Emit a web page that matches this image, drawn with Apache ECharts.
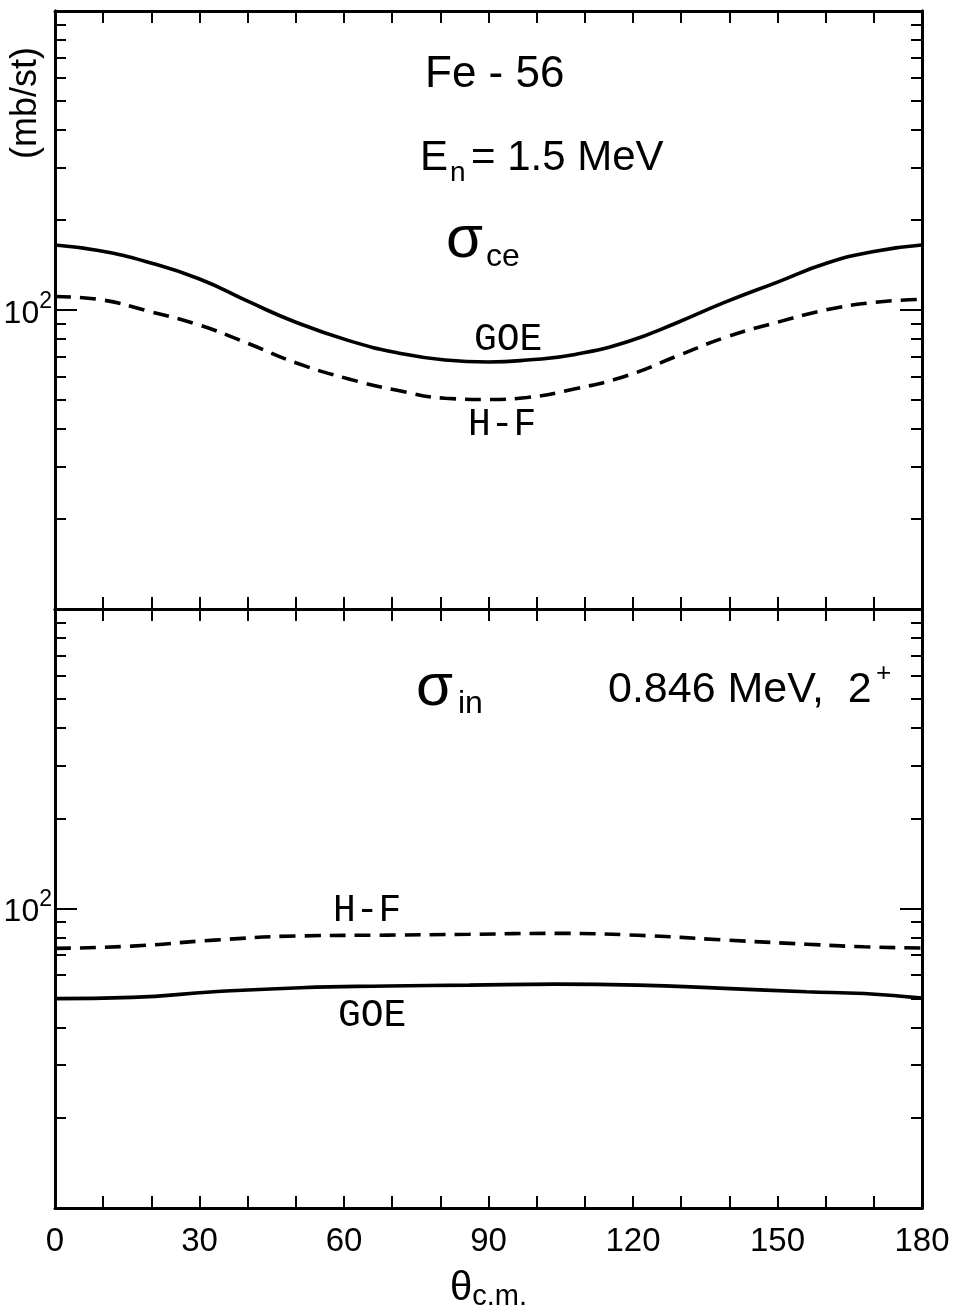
<!DOCTYPE html>
<html>
<head>
<meta charset="utf-8">
<script src="https://cdn.jsdelivr.net/npm/echarts@6/dist/echarts.min.js"></script>
<style>
html,body{margin:0;padding:0;background:#fff;}
#chart{width:953px;height:1315px;}
</style>
</head>
<body>
<div id="chart"></div>
<script>
// ---- data ----
const thetaTop = [0, 9, 19, 30, 40, 50, 61, 71, 81, 90, 98, 108, 119, 129, 139, 150, 160, 170, 180];
const goeElastic = [165, 158, 145, 127, 107, 91, 79, 72, 68, 67, 68, 71, 78.5, 90.5, 106, 124, 143, 157, 165];
const hfElastic = [111, 108.5, 99.5, 89, 77.4, 66.6, 58.8, 53.9, 50.7, 50.2, 51, 54.5, 60.5, 70, 80.8, 91, 100, 106, 108.6];

const thetaBottom = [0, 16, 33, 51, 69, 86, 104, 121, 139, 156, 168, 180];
const hfInelastic = [73.6, 74.9, 78.4, 81, 81.5, 82, 82.6, 81.4, 78.5, 76, 74.5, 73.8];
const goeInelastic = [50, 50.5, 52.7, 54.4, 55.1, 55.5, 55.9, 55.5, 54.1, 52.7, 52, 50.2];

const xTickLabels = [0, 30, 60, 90, 120, 150, 180];
const yMinorTicks = [20, 30, 40, 50, 60, 70, 80, 90, 200, 300, 400, 500, 600, 700, 800, 900];
const yMajorTicks = [100];

// ---- chart ----
const chart = echarts.init(document.getElementById('chart'), null, {renderer: 'canvas'});
const NUM_FONT = 'Liberation Sans, Arial, sans-serif';
const MONO_FONT = 'Liberation Mono, DejaVu Sans Mono, monospace';
const BLACK = '#000';

const grids = [
  {left: 55, right: 31, top: 11, height: 598, containLabel: false, outerBoundsMode: 'none'},
  {left: 55, right: 31, top: 609, height: 599, containLabel: false, outerBoundsMode: 'none'}
];

function xAxisFor(gi, pos, withLabels) {
  return {
    gridIndex: gi, type: 'value', position: pos, min: 0, max: 180, interval: 10,
    axisLine: {show: true, lineStyle: {color: BLACK, width: 3}},
    axisTick: {show: true, inside: true, length: 12, lineStyle: {color: BLACK, width: 2}},
    splitLine: {show: false},
    axisLabel: withLabels ? {
      show: true, color: BLACK, fontFamily: NUM_FONT, fontSize: 33, margin: 17,
      formatter: v => (xTickLabels.indexOf(v) >= 0 ? String(v) : '')
    } : {show: false},
    name: withLabels ? '{t|θ}{s|c.m.}' : '',
    nameLocation: 'middle', nameGap: 61,
    nameTextStyle: {
      rich: {
        t: {fontFamily: NUM_FONT, fontSize: 40, color: BLACK, verticalAlign: 'top', lineHeight: 42},
        s: {fontFamily: NUM_FONT, fontSize: 29, color: BLACK, verticalAlign: 'bottom', lineHeight: 42}
      }
    }
  };
}

function yAxisFor(gi, pos, ticks, len, withLabel) {
  return {
    gridIndex: gi, type: 'log', logBase: 10, position: pos, min: 10, max: 1000,
    axisLine: {show: true, lineStyle: {color: BLACK, width: 3}},
    axisTick: {show: true, inside: true, length: len, customValues: ticks, lineStyle: {color: BLACK, width: 2}},
    minorTick: {show: false},
    splitLine: {show: false},
    axisLabel: withLabel ? {
      show: true, customValues: yMajorTicks, margin: 3,
      formatter: () => '{a|10}{b|2}',
      rich: {
        a: {fontFamily: NUM_FONT, fontSize: 32, color: BLACK, verticalAlign: 'bottom', lineHeight: 40},
        b: {fontFamily: NUM_FONT, fontSize: 23, color: BLACK, verticalAlign: 'top', lineHeight: 40}
      }
    } : {show: false}
  };
}

const xAxes = [
  xAxisFor(0, 'bottom', false),
  xAxisFor(0, 'top', false),
  xAxisFor(1, 'bottom', true),
  xAxisFor(1, 'top', false)
];
const yAxes = [];
[0, 1].forEach(gi => {
  yAxes.push(yAxisFor(gi, 'left', yMinorTicks, 11, true));   // index gi*4
  yAxes.push(yAxisFor(gi, 'left', yMajorTicks, 22, false));
  yAxes.push(yAxisFor(gi, 'right', yMinorTicks, 11, false));
  yAxes.push(yAxisFor(gi, 'right', yMajorTicks, 22, false));
});

function pairs(xs, ys) { return xs.map((x, i) => [x, ys[i]]); }

const solid = {color: BLACK, width: 3.6, type: 'solid'};
const dashed = {color: BLACK, width: 3.6, type: [16, 9]};

const series = [
  {name: 'GOE elastic', type: 'line', xAxisIndex: 0, yAxisIndex: 0, data: pairs(thetaTop, goeElastic),
   smooth: 0.5, showSymbol: false, symbol: 'none', lineStyle: solid, silent: true, animation: false},
  {name: 'H-F elastic', type: 'line', xAxisIndex: 0, yAxisIndex: 0, data: pairs(thetaTop, hfElastic),
   smooth: 0.5, showSymbol: false, symbol: 'none', lineStyle: dashed, silent: true, animation: false},
  {name: 'H-F inelastic', type: 'line', xAxisIndex: 2, yAxisIndex: 4, data: pairs(thetaBottom, hfInelastic),
   smooth: 0.5, showSymbol: false, symbol: 'none', lineStyle: dashed, silent: true, animation: false},
  {name: 'GOE inelastic', type: 'line', xAxisIndex: 2, yAxisIndex: 4, data: pairs(thetaBottom, goeInelastic),
   smooth: 0.5, showSymbol: false, symbol: 'none', lineStyle: solid, silent: true, animation: false}
];

function txt(text, x, y, size, font, align) {
  return {
    type: 'text', x: x, y: y, silent: true,
    style: {text: text, font: size + 'px ' + font, fill: BLACK, textAlign: align || 'left', textVerticalAlign: 'middle'}
  };
}

const yName = txt('(mb/st)', 26, 103, 36, NUM_FONT, 'center');
yName.rotation = Math.PI / 2;

const graphics = [
  yName,
  txt('Fe - 56', 425, 75, 44, NUM_FONT),
  txt('E', 420, 158, 42, NUM_FONT),
  txt('n', 450, 173, 28, NUM_FONT),
  txt('= 1.5 MeV', 471, 158, 42, NUM_FONT),
  txt('σ', 446, 240, 60, NUM_FONT),
  txt('ce', 486, 257, 32, NUM_FONT),
  txt('GOE', 474, 340, 38, MONO_FONT),
  txt('H-F', 468, 425, 38, MONO_FONT),
  txt('σ', 416, 688, 60, NUM_FONT),
  txt('in', 458, 704, 32, NUM_FONT),
  txt('0.846 MeV,  2', 608, 690, 43, NUM_FONT),
  txt('+', 876, 674, 26, NUM_FONT),
  txt('H-F', 333, 911, 38, MONO_FONT),
  txt('GOE', 338, 1016, 38, MONO_FONT)
];

chart.setOption({
  animation: false,
  backgroundColor: '#fff',
  grid: grids,
  xAxis: xAxes,
  yAxis: yAxes,
  series: series,
  graphic: graphics
});
</script>
</body>
</html>
